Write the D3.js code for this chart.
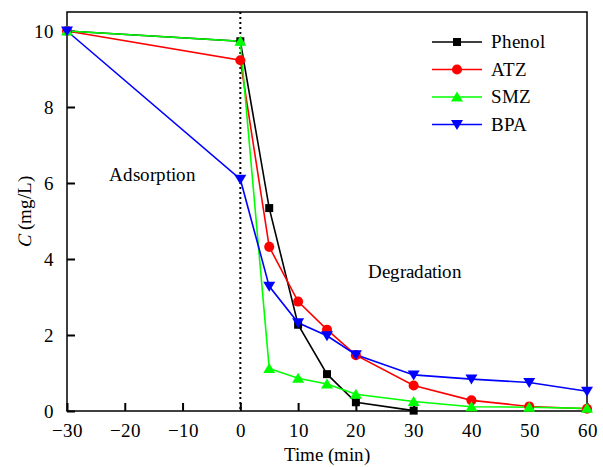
<!DOCTYPE html>
<html>
<head>
<meta charset="utf-8">
<style>
  @font-face { font-family: "ChartSerif"; src: local("Liberation Serif"), local("LiberationSerif"), local("Tinos"), local("Times New Roman"); }
  body { margin: 0; background: #fff; }
</style>
<script src="https://cdn.jsdelivr.net/npm/d3@7"></script>
</head>
<body>
<svg id="chart" width="603" height="467" font-family="Liberation Serif"></svg>
<script>
'use strict';

const FONT = "ChartSerif, 'Liberation Serif', Tinos, 'Times New Roman', serif";

// time points (min)
const times = [-30, 0, 5, 10, 15, 20, 30, 40, 50, 60];
const phenol = [10, 9.73, 5.34, 2.27, 0.97, 0.23, 0.01];
const atz = [10, 9.23, 4.32, 2.88, 2.14, 1.47, 0.67, 0.28, 0.12, 0.06];
const smz = [10, 9.73, 1.12, 0.86, 0.71, 0.44, 0.25, 0.11, 0.1, 0.07];
const bpa = [10, 6.1, 3.28, 2.32, 1.98, 1.48, 0.95, 0.84, 0.75, 0.52];

const xTicks = [-30, -20, -10, 0, 10, 20, 30, 40, 50, 60];
const yTicks = [0, 2, 4, 6, 8, 10];

const series = [
  {name: 'Phenol', values: phenol, color: '#000000', symbol: 'square'},
  {name: 'ATZ', values: atz, color: '#ff0000', symbol: 'circle'},
  {name: 'SMZ', values: smz, color: '#00ff00', symbol: 'up'},
  {name: 'BPA', values: bpa, color: '#0000ff', symbol: 'down'}
];

const margin = {left: 67, top: 12, right: 16, bottom: 56};
const width = 603 - margin.left - margin.right;
const height = 467 - margin.top - margin.bottom;

const svg = d3.select('#chart');
const g = svg.append('g').attr('transform', `translate(${margin.left},${margin.top})`);

const x = d3.scaleLinear().domain([-30, 60]).range([0, width]);
const y = d3.scaleLinear().domain([0, 10.5]).range([height, 0]);

// frame
g.append('rect')
  .attr('width', width).attr('height', height)
  .attr('fill', 'none').attr('stroke', '#000').attr('stroke-width', 1.5);

// x axis
const xAxis = g.append('g').attr('transform', `translate(0,${height})`);
xAxis.call(d3.axisBottom(x).tickValues(d3.range(-25, 60, 10)).tickSize(-4).tickFormat(''));
xAxis.call(d3.axisBottom(x).tickValues(xTicks).tickSize(-8).tickPadding(13)
  .tickFormat(d => d < 0 ? '\u2212' + Math.abs(d) : d));
xAxis.attr('font-family', null).attr('font-size', null);
xAxis.selectAll('.domain').remove();
xAxis.selectAll('line').attr('stroke-width', 2);

// y axis
const yAxis = g.append('g');
yAxis.call(d3.axisLeft(y).tickValues(d3.range(1, 10.5, 2)).tickSize(-4).tickFormat(''));
yAxis.call(d3.axisLeft(y).tickValues(yTicks).tickSize(-8).tickPadding(13));
yAxis.attr('font-family', null).attr('font-size', null);
yAxis.selectAll('.domain').remove();
yAxis.selectAll('line').attr('stroke-width', 2);

// axis titles
svg.append('text')
  .attr('x', margin.left + x(15)).attr('y', 461)
  .attr('text-anchor', 'middle')
  .text('Time (min)');

const yt = svg.append('text')
  .attr('transform', 'translate(31,' + (margin.top + height / 2) + ') rotate(-90)')
  .attr('text-anchor', 'middle');
yt.append('tspan').attr('font-style', 'italic').text('C');
yt.append('tspan').text(' (mg/L)');

// dotted divider at t = 0
g.append('line')
  .attr('x1', x(0)).attr('x2', x(0)).attr('y1', 0).attr('y2', height)
  .attr('stroke', '#000').attr('stroke-width', 2).attr('stroke-dasharray', '2,3');

// region labels
g.append('text').attr('x', x(-15) - 1).attr('y', 169)
  .attr('text-anchor', 'middle').text('Adsorption');
g.append('text').attr('x', x(30.3)).attr('y', 266)
  .attr('text-anchor', 'middle').text('Degradation');

function symbolPath(type) {
  if (type === 'square') return d3.symbol(d3.symbolSquare, 64)();
  if (type === 'circle') return d3.symbol(d3.symbolCircle, 80)();
  if (type === 'up') return 'M0,-5.5L6,4.5L-6,4.5Z';
  return 'M0,5.5L6,-4.5L-6,-4.5Z';
}

const line = d3.line().x(d => x(d[0])).y(d => y(d[1]));

series.forEach(s => {
  const pts = s.values.map((v, i) => [times[i], v]);
  g.append('path').datum(pts)
    .attr('d', line).attr('fill', 'none')
    .attr('stroke', s.color).attr('stroke-width', 1.6);
});
series.forEach(s => {
  const pts = s.values.map((v, i) => [times[i], v]);
  g.selectAll(null).data(pts).enter().append('path')
    .attr('d', symbolPath(s.symbol))
    .attr('transform', d => `translate(${x(d[0])},${y(d[1])})`)
    .attr('fill', s.color);
});

// legend
const legend = svg.append('g');
series.forEach((s, i) => {
  const ly = 42 + i * 27.5;
  legend.append('line').attr('x1', 432).attr('x2', 482).attr('y1', ly).attr('y2', ly)
    .attr('stroke', s.color).attr('stroke-width', 1.6);
  legend.append('path').attr('d', symbolPath(s.symbol))
    .attr('transform', `translate(457,${ly})`).attr('fill', s.color);
  legend.append('text').attr('x', 491).attr('y', ly + 6).text(s.name);
});

// one font for every label
svg.selectAll('text')
  .attr('font-family', FONT)
  .style('font-family', FONT)
  .style('font-size', '19px')
  .attr('fill', '#000');
</script>
</body>
</html>
